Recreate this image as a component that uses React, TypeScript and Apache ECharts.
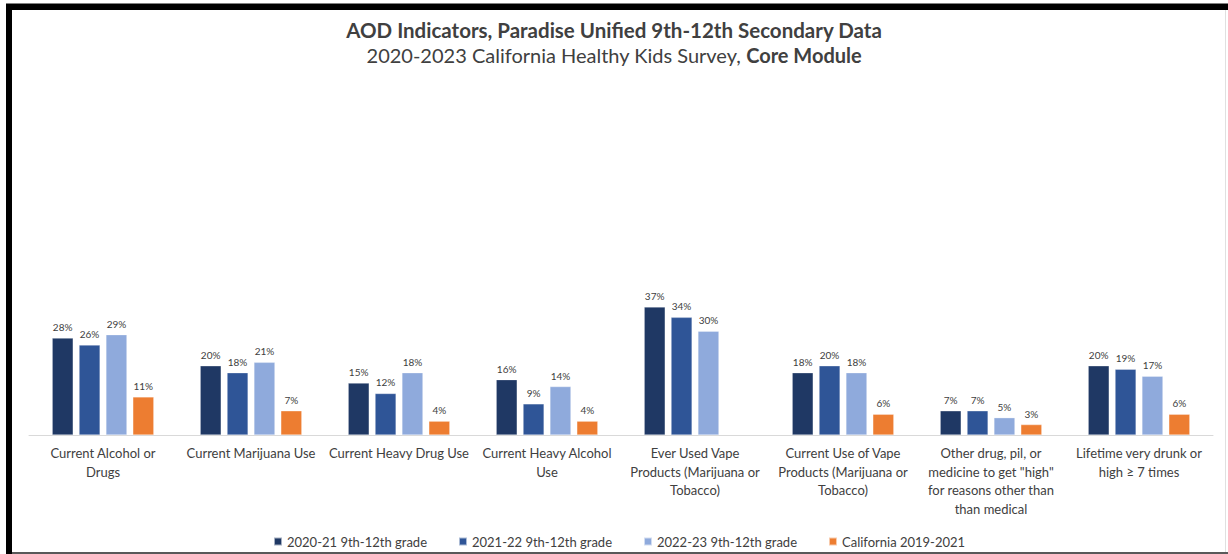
import React, { useEffect, useRef } from "react";
import * as echarts from "echarts";

const categories = [
  "Current Alcohol or\nDrugs",
  "Current Marijuana Use",
  "Current Heavy Drug Use",
  "Current Heavy Alcohol\nUse",
  "Ever Used Vape\nProducts (Marijuana or\nTobacco)",
  "Current Use of Vape\nProducts (Marijuana or\nTobacco)",
  "Other drug, pil, or\nmedicine to get \"high\"\nfor reasons other than\nthan medical",
  "Lifetime very drunk or\nhigh \u2265 7 times",
];

const seriesNames = [
  "2020-21 9th-12th grade",
  "2021-22 9th-12th grade",
  "2022-23 9th-12th grade",
  "California 2019-2021",
];

const y2020: (number | null)[] = [28, 20, 15, 16, 37, 18, 7, 20];
const y2021: (number | null)[] = [26, 18, 12, 9, 34, 20, 7, 19];
const y2022: (number | null)[] = [29, 21, 18, 14, 30, 18, 5, 17];
const california: (number | null)[] = [11, 7, 4, 4, null, 6, 3, 6];

const colors = ["#1F3864", "#2F5597", "#8FAADC", "#ED7D31"];

const FONT = "Lato, 'Open Sans', sans-serif";

export default function App() {
  const ref = useRef<HTMLDivElement>(null);

  useEffect(() => {
    document.body.style.margin = "0";
    if (!ref.current) return;
    const chart = echarts.init(ref.current, null, { renderer: "svg" });
    const allData = [y2020, y2021, y2022, california];
    const series = allData.map((d, i) => ({
      name: seriesNames[i],
      type: "bar",
      data: d.map((v) => (v === null ? "-" : v)),
      barWidth: 21,
      barGap: "28%",
      itemStyle: { color: colors[i], borderColor: "rgba(255,255,255,0.6)", borderWidth: 0.5 },
      label: {
        show: true,
        position: "top",
        distance: 6,
        formatter: "{c}%",
        fontFamily: FONT,
        fontSize: 10,
        color: "#404040",
      },
    }));

    chart.setOption({
      animation: false,
      backgroundColor: "#ffffff",
      title: [
        {
          text: "AOD Indicators, Paradise Unified 9th-12th Secondary Data",
          left: "center",
          top: 14,
          textStyle: { fontFamily: FONT, fontSize: 20.5, fontWeight: "bold", color: "#404040" },
        },
        {
          text: "2020-2023 California Healthy Kids Survey, {b|Core Module}",
          left: "center",
          top: 40,
          textStyle: {
            fontFamily: FONT,
            fontSize: 20,
            fontWeight: "normal",
            color: "#404040",
            rich: { b: { fontFamily: FONT, fontSize: 20, fontWeight: "bold", color: "#404040" } },
          },
        },
      ],
      legend: {
        left: 268,
        top: 530,
        itemWidth: 8,
        itemHeight: 8,
        itemGap: 31,
        icon: "rect",
        textStyle: { fontFamily: FONT, fontSize: 13, color: "#404040" },
        data: seriesNames,
      },
      grid: { left: 29, right: 15, top: 262, bottom: 119 },
      xAxis: {
        type: "category",
        data: categories,
        axisLine: { lineStyle: { color: "#D9D9D9", width: 1 } },
        axisTick: { show: false },
        axisLabel: {
          interval: 0,
          margin: 9,
          fontFamily: FONT,
          fontSize: 13,
          lineHeight: 18.5,
          color: "#404040",
        },
      },
      yAxis: {
        type: "value",
        min: 0,
        max: 50,
        show: false,
        splitLine: { show: false },
      },
      graphic: [
        { type: "rect", shape: { x: 6, y: 3, width: 1222, height: 1 }, style: { fill: "#808080" } },
        { type: "rect", shape: { x: 6, y: 4, width: 1222, height: 6 }, style: { fill: "#000000" } },
        { type: "rect", shape: { x: 6, y: 4, width: 6, height: 550 }, style: { fill: "#000000" } },
        { type: "rect", shape: { x: 12, y: 552, width: 1216, height: 2 }, style: { fill: "#595959" } },
        { type: "rect", shape: { x: 1225, y: 10, width: 1, height: 542 }, style: { fill: "#E0E0E0" } },
      ],
      series,
    });
    return () => chart.dispose();
  }, []);

  return (
    <div
      ref={ref}
      style={{ position: "fixed", left: 0, top: 0, width: 1228, height: 554 }}
    />
  );
}
